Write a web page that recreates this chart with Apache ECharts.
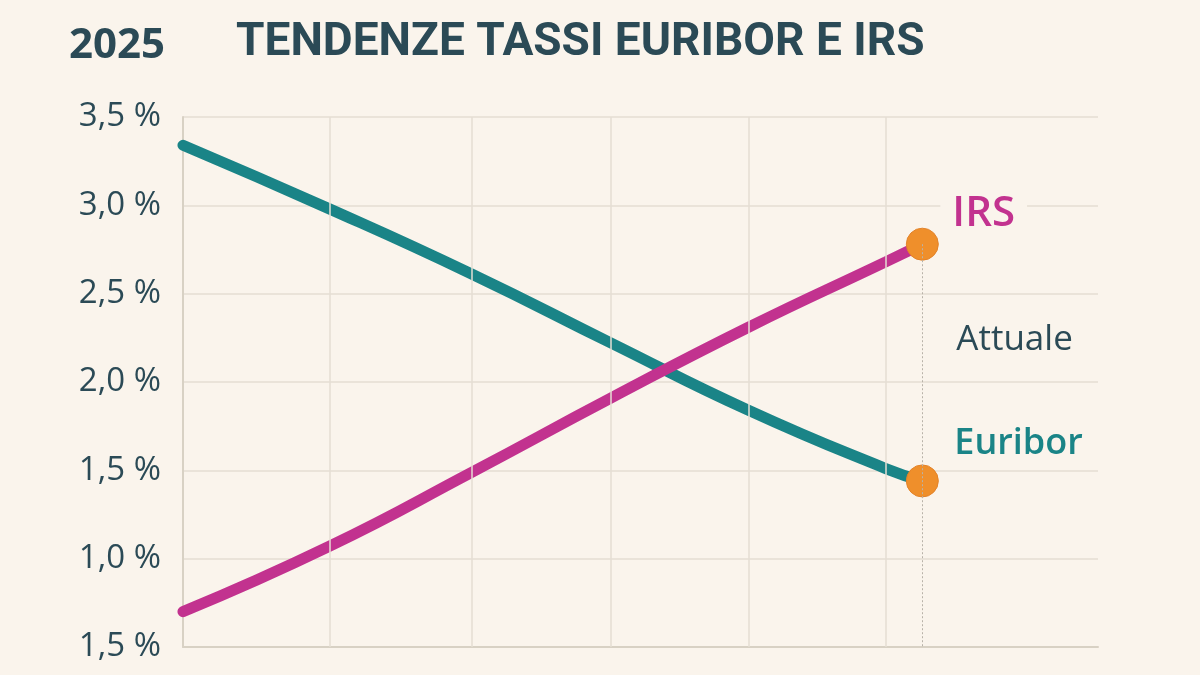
<!DOCTYPE html>
<html>
<head>
<meta charset="utf-8">
<script src="https://cdn.jsdelivr.net/npm/echarts@6/dist/echarts.min.js"></script>
<style>
html,body{margin:0;padding:0;background:#faf4ec;}
#c{width:1200px;height:675px;}
</style>
</head>
<body>
<div id="c"></div>
<script>
// ---- data ----
const periodi = [0, 16, 31.6, 46.8, 61.8, 76.8, 80.8];
const euribor = [3.34, 2.98, 2.61, 2.22, 1.84, 1.51, 1.44];
const irs     = [0.70, 1.07, 1.49, 1.91, 2.31, 2.68, 2.78];
const lineeVerticali = [16, 31.6, 46.8, 61.8, 76.8];
const attuale = 80.8;
const tickLabels = ['1,5 %', '1,0 %', '1,5 %', '2,0 %', '2,5 %', '3,0 %', '3,5 %'];
const annoTitolo = '2025';
const titolo = 'TENDENZE TASSI EURIBOR E IRS';

const pair = (xs, ys) => xs.map((x, i) => [x, ys[i]]);

const gridColor = '#e5ded3';
const axisColor = '#d8d1c4';
const dark = '#2b4a56';
const bg = '#faf4ec';

const chart = echarts.init(document.getElementById('c'));
chart.setOption({
  backgroundColor: bg,
  animation: false,
  title: [
    { text: annoTitolo, left: 64, top: 19,
      textStyle: { fontFamily: 'Open Sans', fontWeight: 'bold', fontSize: 42, lineHeight: 44, color: dark } },
    { text: titolo, left: 231, top: 15,
      textStyle: { fontFamily: 'Roboto', fontWeight: 'bold', fontSize: 46, lineHeight: 46, color: dark } }
  ],
  grid: { left: 183, right: 102, top: 117, bottom: 28 },
  xAxis: {
    type: 'value', min: 0, max: 100,
    axisLine: { show: true, lineStyle: { color: axisColor, width: 2 } },
    axisTick: { show: false }, axisLabel: { show: false }, splitLine: { show: false }
  },
  yAxis: {
    type: 'value', min: 0.5, max: 3.5, interval: 0.5,
    axisLine: { show: true, lineStyle: { color: axisColor, width: 2 } },
    axisTick: { show: false },
    axisLabel: {
      margin: 22, fontFamily: 'Open Sans', fontSize: 33, color: dark,
      formatter: v => tickLabels[Math.round((v - 0.5) / 0.5)]
    },
    splitLine: { lineStyle: { color: gridColor, width: 1.5 } }
  },
  series: [
    {
      type: 'line', data: [], z: 1, silent: true,
      markLine: {
        silent: true, symbol: 'none', label: { show: false },
        lineStyle: { color: gridColor, width: 1.5, type: 'solid' },
        data: lineeVerticali.map(x => ({ xAxis: x }))
      }
    },
    {
      type: 'line', data: [], z: 2, silent: true,
      markLine: {
        silent: true, symbol: 'none', label: { show: false },
        lineStyle: { color: '#b8b2a8', width: 1, type: [2, 2] },
        data: [[{ coord: [attuale, irs[irs.length - 1]] }, { coord: [attuale, 0.5] }]]
      },
      markPoint: {
        symbol: 'circle', symbolSize: 0,
        data: [{ coord: [attuale, 2.24] }],
        label: { show: true, position: 'right', distance: 34, formatter: 'Attuale',
          fontFamily: 'Open Sans', fontSize: 35, color: dark }
      }
    },
    {
      name: 'Euribor', type: 'line', z: 3,
      data: pair(periodi, euribor), smooth: 0.5,
      lineStyle: { color: '#1a8487', width: 11, cap: 'round' },
      symbol: 'none',
      endLabel: { show: true, formatter: '{a}', offset: [24, -37],
        fontFamily: 'Open Sans', fontWeight: 600, fontSize: 36, color: '#1a8487' }
    },
    {
      name: 'IRS', type: 'line', z: 3,
      data: pair(periodi, irs), smooth: 0.5,
      lineStyle: { color: '#c2328f', width: 11, cap: 'round' },
      symbol: 'none',
      endLabel: { show: true, formatter: '{a}', offset: [10, -30],
        fontFamily: 'Open Sans', fontWeight: 600, fontSize: 42, color: '#c2328f',
        backgroundColor: bg, padding: [0, 12] }
    },
    {
      type: 'scatter', z: 4,
      data: [[attuale, irs[irs.length - 1]], [attuale, euribor[euribor.length - 1]]],
      symbolSize: 32,
      itemStyle: { color: '#ef8f2b', opacity: 1, borderColor: '#e3832a', borderWidth: 1 }
    }
  ]
});
</script>
</body>
</html>
